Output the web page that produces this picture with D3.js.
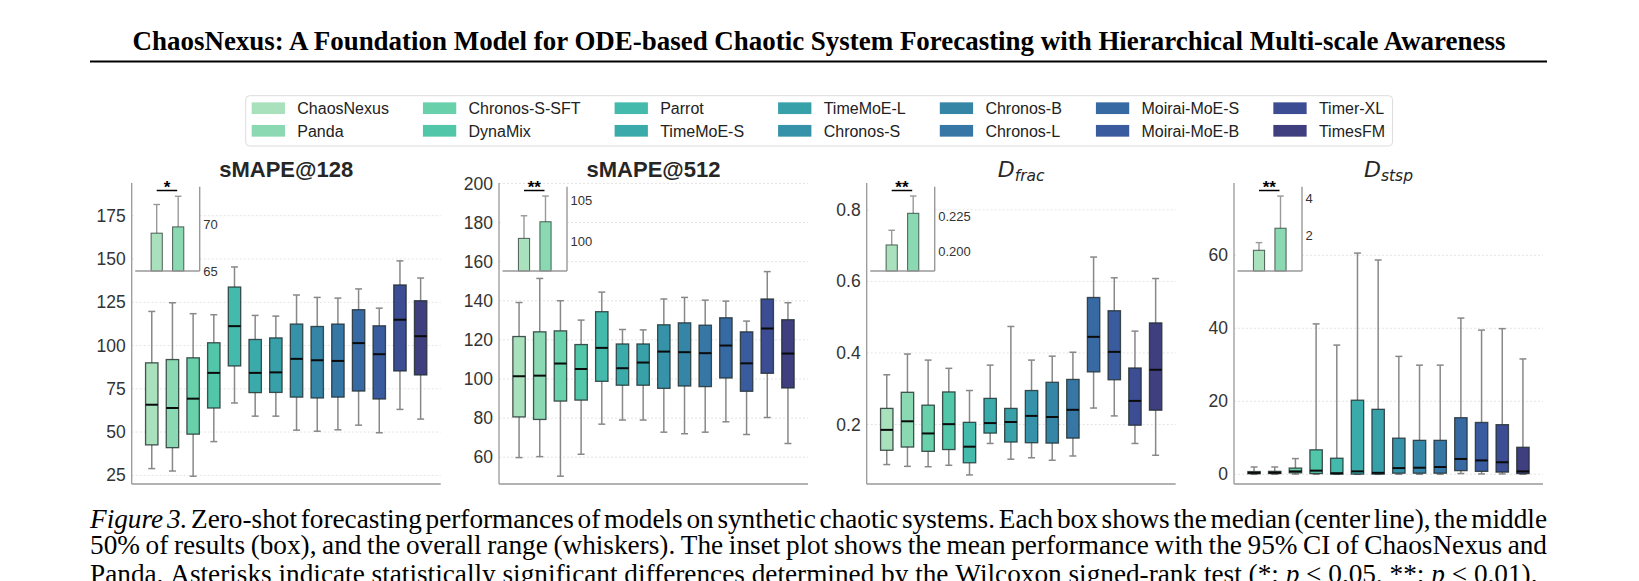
<!DOCTYPE html>
<html><head><meta charset="utf-8">
<script src="https://cdn.jsdelivr.net/npm/d3@7"></script>
<style>body{margin:0;background:#fff} svg{display:block}</style>
</head><body><svg id="c" width="1639" height="581"></svg>
<script>
// ---------------- DATA ----------------
const headerTitle = "ChaosNexus: A Foundation Model for ODE-based Chaotic System Forecasting with Hierarchical Multi-scale Awareness";
const models = ["ChaosNexus","Panda","Chronos-S-SFT","DynaMix","Parrot","TimeMoE-S","TimeMoE-L","Chronos-S","Chronos-B","Chronos-L","Moirai-MoE-S","Moirai-MoE-B","Timer-XL","TimesFM"];
const palette = ["#a9e1bd","#8bd9b2","#68d0aa","#52c6a9","#43baab","#3aabaa","#37a0a9","#3592a8","#3585a7","#3677a5","#3769a2","#3a5b9d","#3c4d93","#3f3f7f"];
const panelTitles = ["sMAPE@128","sMAPE@512","D|frac","D|stsp"];

// box stats per model: [whisker low, q1, median, q3, whisker high]
const smape128 = [
 [28.9,42.6,65.8,90.0,119.7],[27.5,41.0,63.9,91.9,124.7],[24.5,48.8,69.3,92.9,118.4],[44.5,63.9,84.2,101.6,117.8],
 [66.8,88.2,111.2,133.8,145.4],[59.2,72.8,84.2,103.5,117.4],[59.2,72.9,84.5,104.4,117.0],[51.1,70.2,92.3,112.4,129.2],
 [50.5,69.7,91.5,111.0,127.8],[51.3,70.2,91.1,112.4,127.4],[54.0,73.7,101.4,120.7,132.7],[49.6,69.1,95.0,111.4,121.6],
 [63.1,85.3,114.9,135.0,148.9],[57.5,83.0,105.4,125.9,139.0]];
const smape512 = [
 [59.8,80.6,101.4,121.7,139.1],[60.3,79.3,101.7,124.1,151.4],[50.3,88.7,107.9,124.6,140.0],[61.5,89.2,105.1,117.6,130.1],
 [76.9,98.8,115.9,134.4,144.4],[79.0,96.8,105.5,117.9,125.3],[79.0,96.8,108.4,117.9,125.1],[72.8,95.2,114.0,127.7,140.9],
 [72.0,96.4,113.7,128.7,141.7],[72.8,96.1,113.2,127.5,140.3],[78.1,100.5,117.1,131.3,139.8],[71.6,93.7,108.0,124.1,129.6],
 [80.3,102.9,125.8,140.9,154.9],[67.0,95.4,113.0,130.3,139.0]];
const dFrac = [
 [0.088,0.128,0.185,0.245,0.339],[0.083,0.137,0.209,0.290,0.397],[0.082,0.125,0.175,0.254,0.380],[0.086,0.130,0.201,0.291,0.357],
 [0.059,0.093,0.138,0.206,0.295],[0.147,0.176,0.204,0.273,0.366],[0.103,0.151,0.207,0.245,0.474],[0.107,0.149,0.224,0.295,0.380],
 [0.100,0.148,0.221,0.318,0.391],[0.112,0.162,0.241,0.326,0.402],[0.246,0.347,0.445,0.555,0.668],[0.224,0.325,0.403,0.518,0.610],
 [0.147,0.198,0.266,0.358,0.461],[0.114,0.240,0.353,0.484,0.608]];
const dStsp = [
 [0.0,0.15,0.4,0.75,2.0],[0.0,0.2,0.45,0.8,2.0],[0.05,0.4,0.8,1.7,4.3],[0.0,0.2,1.0,6.7,41.2],
 [0.0,0.05,0.3,4.4,35.4],[0.0,0.05,0.8,20.3,60.6],[0.0,0.05,0.4,17.8,58.7],[0.0,0.3,1.7,9.9,32.3],
 [0.0,0.3,1.8,9.3,29.9],[0.0,0.3,2.0,9.3,29.9],[0.2,1.0,4.2,15.5,42.8],[0.1,0.8,3.8,14.2,39.5],
 [0.1,0.6,3.3,13.6,39.9],[0.0,0.2,0.8,7.4,31.6]];

const ticks128 = [25,50,75,100,125,150,175];
const ticks512 = [60,80,100,120,140,160,180,200];
const ticksFrac = [0.2,0.4,0.6,0.8];
const ticksStsp = [0,20,40,60];

// insets: mean and upper 95% CI for ChaosNexus and Panda
const insetModels = ["ChaosNexus","Panda"];
const insetMean128 = [69.04,69.71],  insetCI128 = [72.1,72.98];
const insetMean512 = [100.41,102.4], insetCI512 = [103.12,105.48];
const insetMeanFrac = [0.2044,0.2275], insetCIFrac = [0.2151,0.2401];
const insetMeanStsp = [1.22,2.40], insetCIStsp = [1.63,4.12];
const insetTicks128 = [65,70], insetTicks512 = [100,105], insetTicksFrac = [0.200,0.225], insetTicksStsp = [2,4];
const sigStars = ["*","**","**","**"];

const captionLines = [
 [{t:"Figure 3.",it:true},{t:" Zero-shot forecasting performances of models on synthetic chaotic systems. Each box shows the median (center line), the middle",it:false}],
 [{t:"50% of results (box), and the overall range (whiskers). The inset plot shows the mean performance with the 95% CI of ChaosNexus and",it:false}],
 [{t:"Panda. Asterisks indicate statistically significant differences determined by the Wilcoxon signed-rank test (*: ",it:false},{t:"p",it:true},{t:" < 0.05, **: ",it:false},{t:"p",it:true},{t:" < 0.01).",it:false}]
];

// ---------------- LAYOUT ----------------
const svg = d3.select("#c");
const SANS = '"Liberation Sans", Arial, Helvetica, sans-serif';
const SERIF = '"Liberation Serif", "Times New Roman", serif';

// header
const ht = svg.append("text").attr("x", 819).attr("y", 50).attr("text-anchor","middle")
  .style("font-family", SERIF).style("font-weight","bold").style("font-size","23px").attr("fill","#000").text(headerTitle);
{ const w = ht.node().getComputedTextLength(); ht.style("font-size", (23*1373/w)+"px"); }
svg.append("line").attr("x1",90).attr("x2",1547).attr("y1",61.5).attr("y2",61.5).attr("stroke","#000").attr("stroke-width",2);

// legend
const legend = svg.append("g");
legend.append("rect").attr("x",245.7).attr("y",95.7).attr("width",1146.9).attr("height",50.3).attr("rx",4)
  .attr("fill","#fff").attr("stroke","#dcdcdc").attr("stroke-width",1);
{
  const sw = 33.3, sh = 11.7, pad = 12.3, left = 251.7, rightEnd = 1385, rowsY = [108.2,130.8];
  const ncol = 7;
  const tmp = legend.append("text").style("font-family",SANS).style("font-size","16px");
  const widths = models.map(m => { tmp.text(m); return tmp.node().getComputedTextLength(); });
  tmp.remove();
  const colW = d3.range(ncol).map(c => Math.max(widths[2*c], widths[2*c+1]));
  const gap = (rightEnd - left - ncol*(sw+pad) - d3.sum(colW)) / (ncol-1);
  let x = left;
  for (let c=0;c<ncol;c++){
    for (let r=0;r<2;r++){
      const i = 2*c + r;
      legend.append("rect").attr("x",x).attr("y",rowsY[r]-sh/2).attr("width",sw).attr("height",sh).attr("fill",palette[i]);
      legend.append("text").attr("x",x+sw+pad).attr("y",rowsY[r]).attr("dy","0.36em")
        .style("font-family",SANS).style("font-size","16px").attr("fill","#222").text(models[i]);
    }
    x += sw + pad + colW[c] + gap;
  }
}

const panels = [
  {data:smape128, ticks:ticks128, fmt:d3.format("d"), dom:[20,193.9], x0:131.7,
   inMean:insetMean128, inCI:insetCI128, inTicks:insetTicks128, inDom:[65,74.0], inFmt:d3.format("d")},
  {data:smape512, ticks:ticks512, fmt:d3.format("d"), dom:[46.3,200.2], x0:499,
   inMean:insetMean512, inCI:insetCI512, inTicks:insetTicks512, inDom:[96.5,106.6], inFmt:d3.format("d")},
  {data:dFrac, ticks:ticksFrac, fmt:d3.format(".1f"), dom:[0.0337,0.875], x0:866.7,
   inMean:insetMeanFrac, inCI:insetCIFrac, inTicks:insetTicksFrac, inDom:[0.1854,0.2469], inFmt:d3.format(".3f")},
  {data:dStsp, ticks:ticksStsp, fmt:d3.format("d"), dom:[-2.66,79.8], x0:1234,
   inMean:insetMeanStsp, inCI:insetCIStsp, inTicks:insetTicksStsp, inDom:[0.112,4.62], inFmt:d3.format("d")}
];
const PW = 309, TOP = 183, BOT = 484;

panels.forEach((p, pi) => {
  const g = svg.append("g");
  const x = d3.scaleBand().domain(models).range([p.x0, p.x0+PW]).paddingOuter(0.47).paddingInner(0);
  const y = d3.scaleLinear().domain(p.dom).range([BOT, TOP]);
  const bw = x.step()*0.6;

  // grid
  g.selectAll(".grid").data(p.ticks).join("line")
    .attr("x1", p.x0).attr("x2", p.x0+PW).attr("y1", d=>y(d)).attr("y2", d=>y(d))
    .attr("stroke","#e4e4e4").attr("stroke-width",1).attr("stroke-dasharray","2,2");

  // y axis via d3.axisLeft
  const ax = g.append("g").attr("transform",`translate(${p.x0},0)`)
    .call(d3.axisLeft(y).tickValues(p.ticks).tickFormat(p.fmt).tickSize(0).tickPadding(6));
  ax.select(".domain").remove();
  ax.selectAll("text").style("font-family",SANS).style("font-size","17.5px").attr("fill","#333");

  // spines
  g.append("line").attr("x1",p.x0).attr("x2",p.x0).attr("y1",TOP).attr("y2",BOT).attr("stroke","#999").attr("stroke-width",1.3);
  g.append("line").attr("x1",p.x0).attr("x2",p.x0+PW).attr("y1",BOT).attr("y2",BOT).attr("stroke","#999").attr("stroke-width",1.3);

  // boxes
  const bx = g.selectAll(".box").data(p.data.map((d,i)=>({d, m:models[i], c:palette[i]}))).join("g");
  const cx = o => x(o.m) + x.bandwidth()/2;
  const wstyle = s => s.attr("stroke","#888").attr("stroke-width",1.5);
  bx.append("line").attr("x1",cx).attr("x2",cx).attr("y1",o=>y(o.d[3])).attr("y2",o=>y(o.d[4])).call(wstyle);
  bx.append("line").attr("x1",cx).attr("x2",cx).attr("y1",o=>y(o.d[1])).attr("y2",o=>y(o.d[0])).call(wstyle);
  bx.append("line").attr("x1",o=>cx(o)-bw*0.28).attr("x2",o=>cx(o)+bw*0.28).attr("y1",o=>y(o.d[4])).attr("y2",o=>y(o.d[4])).call(wstyle);
  bx.append("line").attr("x1",o=>cx(o)-bw*0.28).attr("x2",o=>cx(o)+bw*0.28).attr("y1",o=>y(o.d[0])).attr("y2",o=>y(o.d[0])).call(wstyle);
  bx.append("rect").attr("x",o=>cx(o)-bw/2).attr("width",bw)
    .attr("y",o=>y(o.d[3])).attr("height",o=>Math.max(0.5, y(o.d[1])-y(o.d[3])))
    .attr("fill",o=>o.c).attr("stroke","#1e2a2a").attr("stroke-opacity",0.8).attr("stroke-width",1.3);
  bx.append("line").attr("x1",o=>cx(o)-bw/2).attr("x2",o=>cx(o)+bw/2).attr("y1",o=>y(o.d[2])).attr("y2",o=>y(o.d[2]))
    .attr("stroke","#0b0b0b").attr("stroke-width",2);

  // title
  const tparts = panelTitles[pi].split("|");
  if (tparts.length === 1) {
    g.append("text").attr("x", p.x0 + PW/2).attr("y",177).attr("text-anchor","middle")
      .style("font-family",SANS).style("font-weight","bold").style("font-size","22px").attr("fill","#262626").text(tparts[0]);
  } else {
    const t = g.append("text").attr("x", p.x0 + PW/2).attr("y",176.7).attr("text-anchor","middle")
      .style("font-family",'"DejaVu Sans", sans-serif').style("font-style","italic").attr("fill","#262626");
    t.append("tspan").style("font-size","22px").text(tparts[0]);
    t.append("tspan").style("font-size","15.5px").attr("dy",4).text(tparts[1]);
  }

  // inset
  const ig = g.append("g");
  const ix0 = p.x0 + 3.5, ix1 = p.x0 + 68, iTop = 186.7, iBot = 271;
  const ixs = d3.scaleBand().domain(insetModels).range([ix0, ix1]).paddingOuter(0.5).paddingInner(0);
  const iys = d3.scaleLinear().domain(p.inDom).range([iBot, iTop]);
  ig.append("rect").attr("x",ix0).attr("y",iTop-2).attr("width",ix1-ix0).attr("height",iBot-iTop+2).attr("fill","#fff");
  const ibw = ixs.step()*0.52;
  const icx = m => ixs(m) + ixs.bandwidth()/2;
  insetModels.forEach((m,i)=>{
    const mean = p.inMean[i], hi = p.inCI[i], lo = 2*mean - hi;
    ig.append("line").attr("x1",icx(m)).attr("x2",icx(m)).attr("y1",iys(Math.max(lo,p.inDom[0]))).attr("y2",iys(hi)).attr("stroke","#999").attr("stroke-width",1.4);
    ig.append("line").attr("x1",icx(m)-3.3).attr("x2",icx(m)+3.3).attr("y1",iys(hi)).attr("y2",iys(hi)).attr("stroke","#999").attr("stroke-width",1.4);
    ig.append("rect").attr("x",icx(m)-ibw/2).attr("width",ibw).attr("y",iys(mean)).attr("height",iBot-iys(mean))
      .attr("fill",palette[i]).attr("stroke","#2a3a35").attr("stroke-opacity",0.8).attr("stroke-width",1);
  });
  ig.append("line").attr("x1",ix1).attr("x2",ix1).attr("y1",iTop).attr("y2",iBot).attr("stroke","#999").attr("stroke-width",1.4);
  ig.append("line").attr("x1",ix0).attr("x2",ix1).attr("y1",iBot).attr("y2",iBot).attr("stroke","#999").attr("stroke-width",1.4);
  ig.selectAll(".it").data(p.inTicks).join("text").attr("x",ix1+3.5).attr("y",d=>iys(d)).attr("dy","0.36em")
    .style("font-family",SANS).style("font-size","13px").attr("fill","#333").text(p.inFmt);
  // significance bracket
  const sx1 = icx(insetModels[0]), sx2 = icx(insetModels[1]) - 1;
  ig.append("line").attr("x1",sx1).attr("x2",sx2).attr("y1",190.5).attr("y2",190.5).attr("stroke","#000").attr("stroke-width",1.5);
  ig.append("text").attr("x",(sx1+sx2)/2).attr("y",193).attr("text-anchor","middle")
    .style("font-family",SANS).style("font-weight","bold").style("font-size","17px").attr("fill","#000").text(sigStars[pi]);
});

// caption
{
  const L = 90, R = 1547;
  const meas = svg.append("text").style("font-family",SERIF);
  function wordsOf(line){ const out=[]; line.forEach(s=>s.t.split(" ").forEach(w=>{ if(w.length) out.push({t:w,it:s.it}); })); return out; }
  function widthOf(w, fs){ meas.style("font-size",fs+"px").style("font-style", w.it?"italic":"normal").text(w.t); return meas.node().getComputedTextLength(); }
  const base = 20;
  const w3 = wordsOf(captionLines[2]);
  meas.style("font-size",base+"px").style("font-style","normal").text("a a"); const sp1 = meas.node().getComputedTextLength();
  meas.text("aa"); const spW = sp1 - meas.node().getComputedTextLength();
  const nat = d3.sum(w3, w=>widthOf(w,base)) + spW*(w3.length-1);
  const fs = base*1448/nat;
  const space = spW*fs/base;
  const ys = [528, 554, 583];
  captionLines.forEach((line, li) => {
    const ws = wordsOf(line);
    const wid = ws.map(w=>widthOf(w,fs));
    const gap = li < 2 ? (R - L - d3.sum(wid))/(ws.length-1) : space;
    let x = L;
    ws.forEach((w,i)=>{
      svg.append("text").attr("x",x).attr("y",ys[li]).style("font-family",SERIF).style("font-size",fs+"px")
        .style("font-style", w.it?"italic":"normal").attr("fill","#000").text(w.t);
      x += wid[i] + gap;
    });
  });
  meas.remove();
}
</script></body></html>
